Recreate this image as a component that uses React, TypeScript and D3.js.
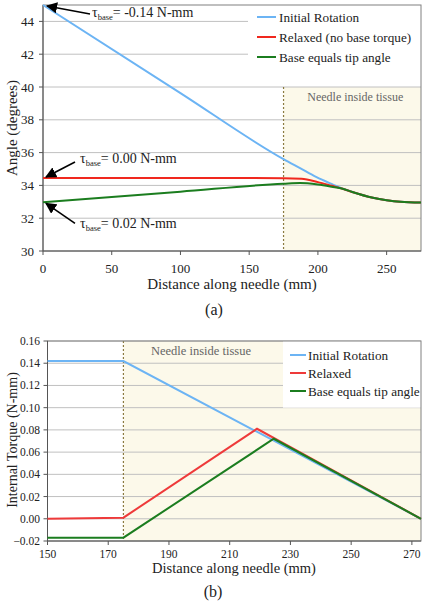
import React from "react";
import * as d3 from "d3";

// ---------- Chart (a) data ----------
const aSeriesNames = ["Initial Rotation", "Relaxed (no base torque)", "Base equals tip angle"];
const aInitialRotation: [number, number][] = [
  [0, 45], [100, 39.63], [175, 35.6], [187, 35.05], [199, 34.5], [211, 34.05], [218, 33.8],
  [225, 33.6], [240, 33.25], [250, 33.1], [260, 33.0], [275, 32.95],
];
const aRelaxed: [number, number][] = [
  [0, 34.45], [100, 34.45], [175, 34.44], [188, 34.4], [200, 34.2], [210, 33.98], [218, 33.8],
  [225, 33.6], [240, 33.25], [250, 33.1], [260, 33.0], [275, 32.95],
];
const aBaseTip: [number, number][] = [
  [0, 32.97], [100, 33.62], [175, 34.1], [187, 34.14], [200, 34.05], [210, 33.92], [218, 33.8],
  [225, 33.6], [240, 33.25], [250, 33.1], [260, 33.0], [275, 32.95],
];
const aXTicks = [0, 50, 100, 150, 200, 250];
const aYTicks = [30, 32, 34, 36, 38, 40, 42, 44];
const aAnnotations = [
  { x: 0, y: 45, value: "-0.14" },
  { x: 0, y: 34.45, value: "0.00" },
  { x: 0, y: 32.97, value: "0.02" },
];

// ---------- Chart (b) data ----------
const bSeriesNames = ["Initial Rotation", "Relaxed", "Base equals tip angle"];
const bInitialRotation: [number, number][] = [[150, 0.142], [175, 0.142], [273, 0]];
const bRelaxed: [number, number][] = [[150, 0], [175, 0.001], [219, 0.081], [273, 0]];
const bBaseTip: [number, number][] = [[150, -0.017], [175, -0.017], [224.5, 0.072], [273, 0]];
const bXTicks = [150, 170, 190, 210, 230, 250, 270];
const bYTicks = [-0.02, 0, 0.02, 0.04, 0.06, 0.08, 0.1, 0.12, 0.14, 0.16];

const tissueStart = 175;

const BLUE = "#6cb4f4";
const RED_A = "#f0281e";
const RED_B = "#ee3a3a";
const GREEN = "#1b7d1f";
const SHADE = "#fcf9ea";
const GRID = "#c0c0c0";
const BORDER = "#808080";
const DASH = "#8a7a40";
const FONT = "Liberation Serif";

export default function App() {
  // ---- (a) scales ----
  const ax = d3.scaleLinear().domain([0, 275]).range([43, 421]);
  const ay = d3.scaleLinear().domain([30, 45]).range([251, 5]);
  const aLine = d3
    .line<[number, number]>()
    .x((d) => ax(d[0]))
    .y((d) => ay(d[1]))
    .curve(d3.curveMonotoneX);

  // ---- (b) scales ----
  const bx = d3.scaleLinear().domain([150, 273]).range([47.5, 421]);
  const by = d3.scaleLinear().domain([-0.02, 0.16]).range([541, 341]);
  const bLine = d3
    .line<[number, number]>()
    .x((d) => bx(d[0]))
    .y((d) => by(d[1]));

  const aLegendColors = [BLUE, RED_A, GREEN];
  const bLegendColors = [BLUE, RED_B, GREEN];

  const T = { fontFamily: FONT } as React.CSSProperties;

  return (
    <svg
      width={427}
      height={605}
      style={{ position: "absolute", left: 0, top: 0, background: "#fff", fontFamily: FONT }}
    >
      <defs>
        <marker id="arr" viewBox="0 0 10 10" refX="9" refY="5" markerWidth="7" markerHeight="7" orient="auto-start-reverse">
          <path d="M0,0 L10,5 L0,10 z" fill="#000" />
        </marker>
      </defs>

      {/* ================= Chart (a) ================= */}
      <rect x={ax(tissueStart)} y={ay(40)} width={ax(275) - ax(tissueStart)} height={ay(30) - ay(40)} fill={SHADE} />
      {aYTicks.filter((t) => t > 30).map((t) => (
        <line key={"ag" + t} x1={ax(0)} x2={ax(275)} y1={ay(t)} y2={ay(t)} stroke={GRID} strokeWidth={1} />
      ))}
      {/* legend box */}
      <rect x={248} y={ay(45) + 0.5} width={ax(275) - 248} height={ay(40.6) - ay(45)} fill="#fff" />
      <line x1={ax(tissueStart)} x2={ax(tissueStart)} y1={ay(40)} y2={ay(30)} stroke={DASH} strokeWidth={1.2} strokeDasharray="2,2" />
      <text style={T} x={(ax(tissueStart) + ax(275)) / 2 + 3} y={101} textAnchor="middle" fontSize={12} fill="#666">
        Needle inside tissue
      </text>
      <rect x={ax(0)} y={ay(45)} width={ax(275) - ax(0)} height={ay(30) - ay(45)} fill="none" stroke={BORDER} strokeWidth={1} />
      <line x1={ax(0)} x2={ax(0)} y1={ay(45)} y2={ay(30)} stroke="#555" strokeWidth={1} />
      <line x1={ax(0)} x2={ax(275)} y1={ay(30)} y2={ay(30)} stroke="#555" strokeWidth={1} />
      {aYTicks.map((t) => (
        <g key={"ayt" + t}>
          <line x1={ax(0) - 4} x2={ax(0)} y1={ay(t)} y2={ay(t)} stroke="#555" />
          <text style={T} x={34} y={ay(t) + 4.5} textAnchor="end" fontSize={13} fill="#222">
            {t}
          </text>
        </g>
      ))}
      {aXTicks.map((t) => (
        <g key={"axt" + t}>
          <line x1={ax(t)} x2={ax(t)} y1={ay(30)} y2={ay(30) + 4} stroke="#555" />
          <text style={T} x={ax(t)} y={273} textAnchor="middle" fontSize={13} fill="#222">
            {t}
          </text>
        </g>
      ))}
      <path d={aLine(aInitialRotation) || ""} fill="none" stroke={BLUE} strokeWidth={2} />
      <path d={aLine(aRelaxed) || ""} fill="none" stroke={RED_A} strokeWidth={2} />
      <path d={aLine(aBaseTip) || ""} fill="none" stroke={GREEN} strokeWidth={2} />

      {aSeriesNames.map((n, i) => (
        <g key={"al" + i}>
          <line x1={257} x2={276} y1={17 + i * 20} y2={17 + i * 20} stroke={aLegendColors[i]} strokeWidth={2} />
          <text style={T} x={279} y={21.5 + i * 20} fontSize={13.2} fill="#222">
            {n}
          </text>
        </g>
      ))}

      {aAnnotations.map((a, i) => {
        const px = ax(a.x);
        const py = ay(a.y);
        const tip = i === 0 ? { x: px + 4, y: py + 1 } : { x: px + 3, y: py + (i === 1 ? -1 : 1) };
        const tailPt = i === 0 ? { x: 90, y: 14 } : { x: 75, y: py + (i === 1 ? -16 : 21) };
        const lx = i === 0 ? 92 : 80;
        const ly = i === 0 ? 17 : py + (i === 1 ? -15 : 26);
        return (
          <g key={"ann" + i}>
            <line x1={tailPt.x} y1={tailPt.y} x2={tip.x} y2={tip.y} stroke="#000" strokeWidth={1.6} markerEnd="url(#arr)" />
            <text style={T} x={lx} y={ly} fontSize={14} fill="#222">
              τ
              <tspan fontSize={8.5} dy={3}>base</tspan>
              <tspan dy={-3}>= {a.value} N-mm</tspan>
            </text>
          </g>
        );
      })}

      <text style={T} transform="translate(17,128) rotate(-90)" textAnchor="middle" fontSize={15} fill="#222">
        Angle (degrees)
      </text>
      <text style={T} x={232} y={289} textAnchor="middle" fontSize={15} fill="#222">
        Distance along needle (mm)
      </text>
      <text style={T} x={214} y={315} textAnchor="middle" fontSize={16} fill="#222">
        (a)
      </text>

      {/* ================= Chart (b) ================= */}
      <rect x={bx(tissueStart)} y={by(0.16)} width={bx(273) - bx(tissueStart)} height={by(-0.02) - by(0.16)} fill={SHADE} />
      {bYTicks.filter((t) => t > -0.02).map((t) => (
        <line key={"bg" + t} x1={bx(150)} x2={bx(273)} y1={by(t)} y2={by(t)} stroke={GRID} strokeWidth={1} />
      ))}
      <rect x={283} y={by(0.16)} width={bx(273) - 283} height={by(0.1) - by(0.16)} fill="#fff" />
      <line x1={bx(tissueStart)} x2={bx(tissueStart)} y1={by(0.16)} y2={by(-0.02)} stroke={DASH} strokeWidth={1.2} strokeDasharray="2,2" />
      <text style={T} x={201} y={355} textAnchor="middle" fontSize={12.5} fill="#666">
        Needle inside tissue
      </text>
      <rect x={bx(150)} y={by(0.16)} width={bx(273) - bx(150)} height={by(-0.02) - by(0.16)} fill="none" stroke={BORDER} strokeWidth={1} />
      <line x1={bx(150)} x2={bx(150)} y1={by(0.16)} y2={by(-0.02)} stroke="#555" strokeWidth={1} />
      <line x1={bx(150)} x2={bx(273)} y1={by(-0.02)} y2={by(-0.02)} stroke="#555" strokeWidth={1} />
      {bYTicks.map((t) => (
        <g key={"byt" + t}>
          <line x1={bx(150) - 4} x2={bx(150)} y1={by(t)} y2={by(t)} stroke="#555" />
          <text style={T} x={40} y={by(t) + 4} textAnchor="end" fontSize={11.5} fill="#222">
            {d3.format(".2f")(t)}
          </text>
        </g>
      ))}
      {bXTicks.map((t) => (
        <g key={"bxt" + t}>
          <line x1={bx(t)} x2={bx(t)} y1={by(-0.02)} y2={by(-0.02) + 4} stroke="#555" />
          <text style={T} x={bx(t)} y={558} textAnchor="middle" fontSize={11.5} fill="#222">
            {t}
          </text>
        </g>
      ))}
      <path d={bLine(bInitialRotation) || ""} fill="none" stroke={BLUE} strokeWidth={2} />
      <path d={bLine(bRelaxed) || ""} fill="none" stroke={RED_B} strokeWidth={2} />
      <path d={bLine(bBaseTip) || ""} fill="none" stroke={GREEN} strokeWidth={2} />

      {bSeriesNames.map((n, i) => (
        <g key={"bl" + i}>
          <line x1={290} x2={306} y1={355 + i * 18} y2={355 + i * 18} stroke={bLegendColors[i]} strokeWidth={2} />
          <text style={T} x={308} y={359.5 + i * 18} fontSize={13.2} fill="#222">
            {n}
          </text>
        </g>
      ))}

      <text style={T} transform="translate(17,440) rotate(-90)" textAnchor="middle" fontSize={14} fill="#222">
        Internal Torque (N-mm)
      </text>
      <text style={T} x={234} y={573} textAnchor="middle" fontSize={14.5} fill="#222">
        Distance along needle (mm)
      </text>
      <text style={T} x={213} y={597} textAnchor="middle" fontSize={16} fill="#222">
        (b)
      </text>
    </svg>
  );
}
